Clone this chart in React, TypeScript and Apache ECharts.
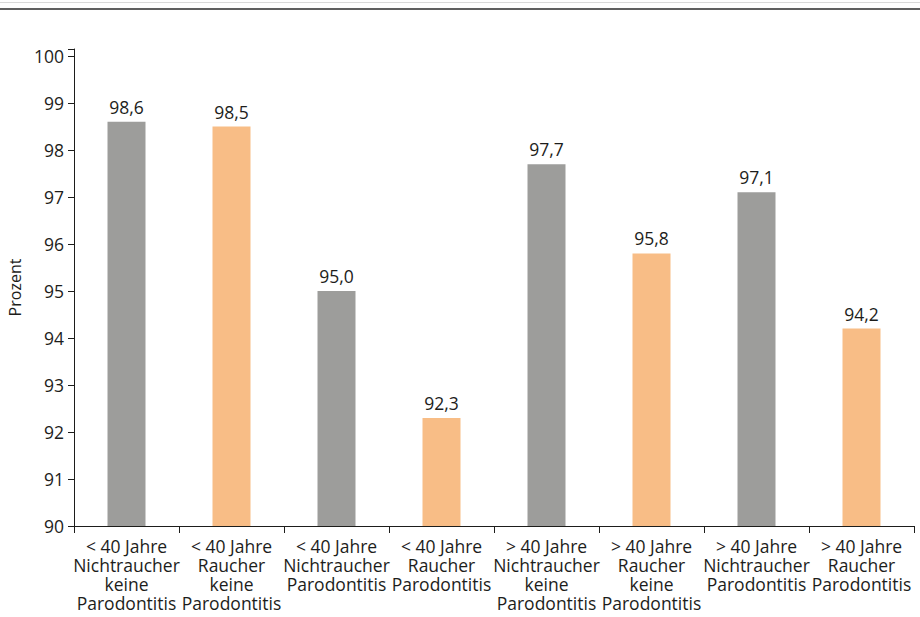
import React, { useEffect, useRef } from "react";
import * as echarts from "echarts";

const categories = [
  "< 40 Jahre\nNichtraucher\nkeine\nParodontitis",
  "< 40 Jahre\nRaucher\nkeine\nParodontitis",
  "< 40 Jahre\nNichtraucher\nParodontitis",
  "< 40 Jahre\nRaucher\nParodontitis",
  "> 40 Jahre\nNichtraucher\nkeine\nParodontitis",
  "> 40 Jahre\nRaucher\nkeine\nParodontitis",
  "> 40 Jahre\nNichtraucher\nParodontitis",
  "> 40 Jahre\nRaucher\nParodontitis",
];
const values = [98.6, 98.5, 95.0, 92.3, 97.7, 95.8, 97.1, 94.2];
const barColors = ["#9d9d9b", "#f8bd86", "#9d9d9b", "#f8bd86", "#9d9d9b", "#f8bd86", "#9d9d9b", "#f8bd86"];
const yAxisName = "Prozent";

const FONT = "Open Sans";
const TEXT = "#1d1d1b";
const FS = 17.5;

export default function App() {
  const ref = useRef<HTMLDivElement>(null);
  useEffect(() => {
    const chart = echarts.init(ref.current!, undefined, { renderer: "svg" });
    chart.setOption({
      animation: false,
      textStyle: { fontFamily: FONT },
      grid: { left: 74, right: 6, top: 49, bottom: 91, containLabel: false, outerBoundsMode: "none" },
      graphic: [
        {
          type: "line",
          shape: { x1: 0, y1: 2.5, x2: 920, y2: 2.5 },
          style: { stroke: "#d9d9d9", lineWidth: 1 },
        },
        {
          type: "line",
          shape: { x1: 0, y1: 9, x2: 920, y2: 9 },
          style: { stroke: "#2b2b2b", lineWidth: 1.5 },
        },
      ],
      xAxis: {
        type: "category",
        data: categories,
        axisLine: { lineStyle: { color: "#1d1d1b", width: 1 } },
        axisTick: { show: true, length: 7, lineStyle: { color: "#1d1d1b" } },
        axisLabel: {
          interval: 0,
          color: TEXT,
          fontSize: FS,
          fontFamily: FONT,
          lineHeight: 19,
          margin: 10,
        },
      },
      yAxis: {
        type: "value",
        min: 90,
        max: 100.15,
        interval: 1,
        name: yAxisName,
        nameLocation: "middle",
        nameGap: 49,
        nameTextStyle: { color: TEXT, fontSize: 16, fontFamily: FONT },
        splitLine: { show: false },
        axisLine: { show: true, lineStyle: { color: "#1d1d1b", width: 1 } },
        axisTick: { show: true, length: 6, lineStyle: { color: "#1d1d1b" } },
        axisLabel: {
          color: TEXT,
          fontSize: FS,
          fontFamily: FONT,
          margin: 10,
          formatter: (v: number) => (v > 100 ? "" : String(v)),
        },
      },
      series: [
        {
          type: "bar",
          barWidth: 38,
          data: values.map((v, i) => ({ value: v, itemStyle: { color: barColors[i] } })),
          label: {
            show: true,
            position: "top",
            distance: 6,
            color: TEXT,
            fontSize: FS,
            fontFamily: FONT,
            formatter: (p: any) => p.value.toFixed(1).replace(".", ","),
          },
        },
      ],
    });
    return () => chart.dispose();
  }, []);
  return (
    <div
      ref={ref}
      style={{ position: "absolute", left: 0, top: 0, width: 920, height: 617, background: "#fff" }}
    />
  );
}
